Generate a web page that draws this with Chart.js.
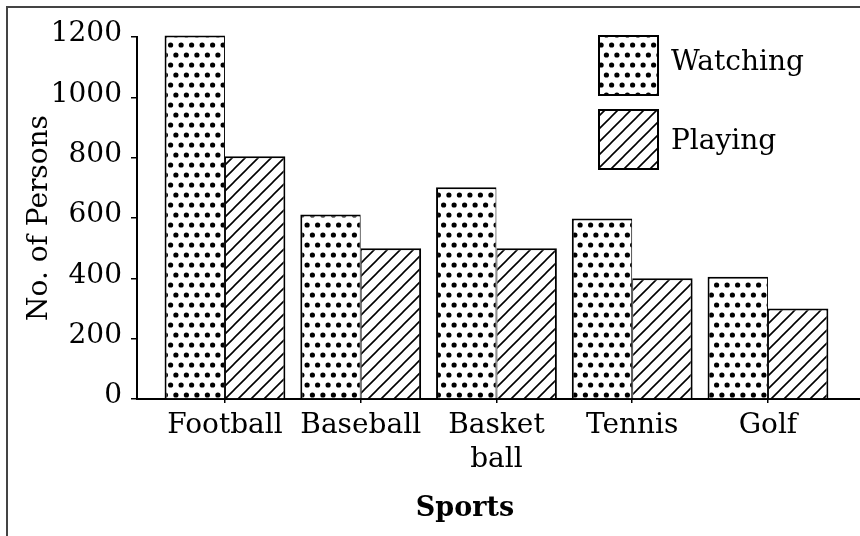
<!DOCTYPE html>
<html><head><meta charset="utf-8">
<script src="https://cdn.jsdelivr.net/npm/chart.js@4/dist/chart.umd.min.js"></script>
<style>
html,body{margin:0;padding:0;background:#fff;overflow:hidden;}
#wrap{position:relative;width:860px;height:536px;overflow:hidden;}
#frame{position:absolute;left:6px;top:6px;width:900px;height:600px;border-top:2px solid #444;border-left:2px solid #444;pointer-events:none;}
canvas{position:absolute;left:0;top:0;}
</style></head>
<body><div id="wrap"><canvas id="c" width="860" height="536"></canvas><div id="frame"></div></div>
<script>
const categories = ['Football', 'Baseball', 'Basket ball', 'Tennis', 'Golf'];
const watching = [1205, 612, 702, 598, 405];
const playing = [805, 500, 500, 400, 300];
const seriesNames = ['Watching', 'Playing'];
const yTicks = [0, 200, 400, 600, 800, 1000, 1200];
const yTitle = 'No. of Persons';
const xTitle = 'Sports';

const FONT = '"DejaVu Serif", "Liberation Serif", serif';
Chart.defaults.font.family = FONT;
Chart.defaults.color = '#000';

function dotPattern() {
  const c = document.createElement('canvas');
  c.width = 21; c.height = 20;
  const g = c.getContext('2d');
  g.fillStyle = '#fff'; g.fillRect(0, 0, 21, 20);
  g.fillStyle = '#000';
  [[2.6, 5], [13.1, 5], [7.9, 15], [18.4, 15]].forEach(([x, y]) => { g.beginPath(); g.arc(x, y, 2.6, 0, Math.PI * 2); g.fill(); });
  return g.createPattern(c, 'repeat');
}
function hatchPattern(s) {
  const c = document.createElement('canvas');
  c.width = s; c.height = s;
  const g = c.getContext('2d');
  g.fillStyle = '#fff'; g.fillRect(0, 0, s, s);
  g.strokeStyle = '#000'; g.lineWidth = 1.6;
  g.beginPath();
  g.moveTo(0, s); g.lineTo(s, 0);
  g.moveTo(-1, 1); g.lineTo(1, -1);
  g.moveTo(s - 1, s + 1); g.lineTo(s + 1, s - 1);
  g.stroke();
  return g.createPattern(c, 'repeat');
}

const annot = {
  id: 'annot',
  afterDraw(chart) {
    const g = chart.ctx;
    g.save();
    const boxes = [[598, 35], [598, 109]];
    const textY = [63, 142];
    chart.data.datasets.forEach((d, i) => {
      const [bx, by] = boxes[i];
      g.fillStyle = d.backgroundColor;
      g.fillRect(bx, by, 61, 61);
      g.lineWidth = 2; g.strokeStyle = '#000';
      g.strokeRect(bx + 1, by + 1, 59, 59);
      g.fillStyle = '#000';
      g.font = '28px ' + FONT;
      g.textBaseline = 'middle'; g.textAlign = 'left';
      g.fillText(d.label, bx + 73, textY[i]);
    });
    g.font = 'bold 27px ' + FONT;
    g.textAlign = 'center'; g.textBaseline = 'middle';
    g.fillText(xTitle, 465, 509);
    g.restore();
  }
};

new Chart(document.getElementById('c'), {
  type: 'bar',
  data: {
    datasets: [
      { label: seriesNames[0], data: categories.map((c, i) => ({ x: i, y: watching[i] })),
        backgroundColor: dotPattern(), borderColor: '#000', clip: false,
        borderWidth: { top: 2, left: 2, right: 1, bottom: 0 }, borderSkipped: false },
      { label: seriesNames[1], data: categories.map((c, i) => ({ x: i, y: playing[i] })),
        backgroundColor: hatchPattern(13), borderColor: '#000', clip: false,
        borderWidth: { top: 2, left: 1, right: 2, bottom: 0 }, borderSkipped: false }
    ]
  },
  options: {
    responsive: false, animation: false,
    layout: { padding: { top: 37, left: 0, right: 0, bottom: 0 } },
    datasets: { bar: { categoryPercentage: 0.89, barPercentage: 1.0 } },
    plugins: { legend: { display: false }, tooltip: { enabled: false } },
    scales: {
      x: {
        type: 'linear', min: -0.648, max: 4.678, offset: false,
        afterBuildTicks: s => { s.ticks = categories.map((c, i) => ({ value: i })); },
        afterFit: s => { s.height = 137; },
        grid: { offset: false, drawOnChartArea: false, drawTicks: true, tickLength: 4, color: '#000', lineWidth: 1.5 },
        border: { display: true, color: '#000', width: 2 },
        ticks: {
          autoSkip: false, maxRotation: 0, minRotation: 0, padding: 6, color: '#000',
          font: { size: 28, lineHeight: 1.2 },
          callback: v => { const l = categories[v]; return (l && l.includes(' ')) ? l.split(' ') : (l || ''); }
        }
      },
      y: {
        min: 0, max: 1200,
        afterBuildTicks: s => { s.ticks = yTicks.map(v => ({ value: v })); },
        afterFit: s => { s.width = 137; },
        grid: { drawOnChartArea: false, drawTicks: true, tickLength: 6, color: '#000', lineWidth: 1.5 },
        border: { display: true, color: '#000', width: 2 },
        ticks: { padding: 9, labelOffset: -3, color: '#000', font: { size: 28 }, callback: v => String(v) },
        title: { display: true, text: yTitle, color: '#000', font: { size: 28, lineHeight: 1.2 }, padding: { top: 23, bottom: 0 } }
      }
    }
  },
  plugins: [annot]
});
</script>
</body></html>
